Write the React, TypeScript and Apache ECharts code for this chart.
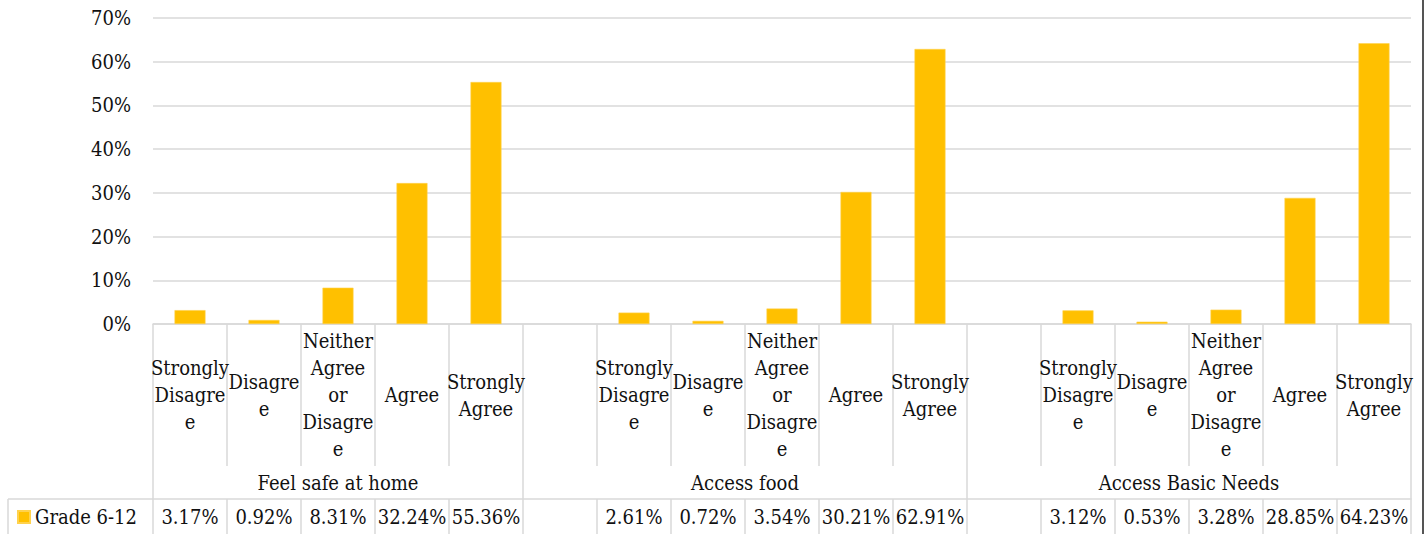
import React, { useEffect, useRef } from "react";
import * as echarts from "echarts";

const groups = ["Feel safe at home", "Access food", "Access Basic Needs"];
const responses = ["Strongly Disagree", "Disagree", "Neither Agree or Disagree", "Agree", "Strongly Agree"];
const responseLabels = ["Strongly\nDisagre\ne", "Disagre\ne", "Neither\nAgree\nor\nDisagre\ne", "Agree", "Strongly\nAgree"];
const feelSafeAtHome = [3.17, 0.92, 8.31, 32.24, 55.36];
const accessFood = [2.61, 0.72, 3.54, 30.21, 62.91];
const accessBasicNeeds = [3.12, 0.53, 3.28, 28.85, 64.23];
const seriesName = "Grade 6-12";
const yMin = 0;
const yMax = 70;
const yStep = 10;

const groupValues = [feelSafeAtHome, accessFood, accessBasicNeeds];
const slotLabels: string[] = [];
const slotValues: (number | null)[] = [];
const groupSpans: [number, number][] = [];
groupValues.forEach((vals, gi) => {
  const start = slotLabels.length;
  if (gi > 0) {
    slotLabels.push("");
    slotValues.push(null);
  }
  vals.forEach((v, ci) => {
    slotLabels.push(responseLabels[ci]);
    slotValues.push(v);
  });
  groupSpans.push([start, slotLabels.length]);
});
const slotKeys = slotLabels.map((_, i) => String(i));
const groupCenters = groupSpans.map(([a, b]) => (a + b) / 2);
const groupEdges = [0, ...groupSpans.map(([, b]) => b)];

const FONT = "'DejaVu Serif Condensed', 'DejaVu Serif'";
const FS = 20;
const TEXT = "#111111";
const LINE = "#d9d9d9";

export default function App() {
  const ref = useRef<HTMLDivElement>(null);
  useEffect(() => {
    document.body.style.margin = "0";
    if (!ref.current) return;
    const chart = echarts.init(ref.current, undefined, { renderer: "svg" });
    chart.setOption({
      animation: false,
      backgroundColor: "#ffffff",
      textStyle: { fontFamily: FONT },
      grid: { left: 153, right: 15, top: 18, bottom: 210, containLabel: false },
      legend: {
        data: [seriesName],
        left: 17,
        top: 506,
        padding: 0,
        icon: "rect",
        itemWidth: 12,
        itemHeight: 12,
        itemGap: 6,
        textStyle: { fontFamily: FONT, fontSize: FS, color: TEXT, lineHeight: 22 },
      },
      xAxis: [
        {
          type: "category",
          data: slotKeys,
          position: "bottom",
          axisLine: { show: true, lineStyle: { color: LINE, width: 1.5 } },
          axisTick: { show: true, interval: 0, length: 142, lineStyle: { color: LINE, width: 1.5 } },
          axisLabel: {
            interval: 0,
            margin: 71,
            verticalAlign: "middle",
            lineHeight: 27,
            fontFamily: FONT,
            fontSize: FS,
            color: TEXT,
            align: "center",
            formatter: (_v: string, i: number) => slotLabels[i],
          },
          splitLine: { show: false },
        },
        {
          type: "value",
          min: 0,
          max: slotKeys.length,
          position: "bottom",
          offset: 142,
          axisLine: { show: false },
          splitLine: { show: false },
          axisTick: {
            show: true,
            customValues: groupEdges,
            length: 33,
            lineStyle: { color: LINE, width: 1.5 },
          },
          axisLabel: {
            show: true,
            customValues: groupCenters,
            margin: 17,
            verticalAlign: "middle",
            fontFamily: FONT,
            fontSize: FS,
            color: TEXT,
            formatter: (v: number) => {
              const idx = groupCenters.findIndex((c) => Math.abs(c - v) < 1e-6);
              return idx >= 0 ? groups[idx] : "";
            },
          },
        },
        {
          type: "category",
          data: slotKeys,
          position: "bottom",
          offset: 175,
          axisLine: { show: true, lineStyle: { color: LINE, width: 1.5 } },
          axisTick: { show: true, interval: 0, length: 35, lineStyle: { color: LINE, width: 1.5 } },
          axisLabel: {
            interval: 0,
            margin: 18,
            verticalAlign: "middle",
            fontFamily: FONT,
            fontSize: FS,
            color: TEXT,
            formatter: (_v: string, i: number) =>
              slotValues[i] == null ? "" : `${(slotValues[i] as number).toFixed(2)}%`,
          },
          splitLine: { show: false },
        },
      ],
      yAxis: {
        type: "value",
        min: yMin,
        max: yMax,
        interval: yStep,
        axisLine: { show: false },
        axisTick: { show: false },
        splitLine: { show: true, lineStyle: { color: LINE, width: 1.5 } },
        axisLabel: {
          margin: 22,
          fontFamily: FONT,
          fontSize: FS,
          color: TEXT,
          formatter: (v: number) => `${v}%`,
        },
      },
      series: [
        {
          name: seriesName,
          type: "bar",
          xAxisIndex: 0,
          data: slotValues,
          barWidth: 31,
          itemStyle: { color: "#FFC000", borderColor: "#FFD24D", borderWidth: 0.6 },
        },
      ],
      graphic: [
        { type: "line", shape: { x1: 8, y1: 499, x2: 153, y2: 499 }, style: { stroke: LINE, lineWidth: 1.5 } },
        { type: "line", shape: { x1: 8, y1: 499, x2: 8, y2: 534 }, style: { stroke: LINE, lineWidth: 1.5 } },
        { type: "rect", shape: { x: 1422, y: 0, width: 2, height: 534 }, style: { fill: "#555555" } },
      ],
    });
    return () => chart.dispose();
  }, []);
  return <div ref={ref} style={{ width: 1426, height: 534 }} />;
}
